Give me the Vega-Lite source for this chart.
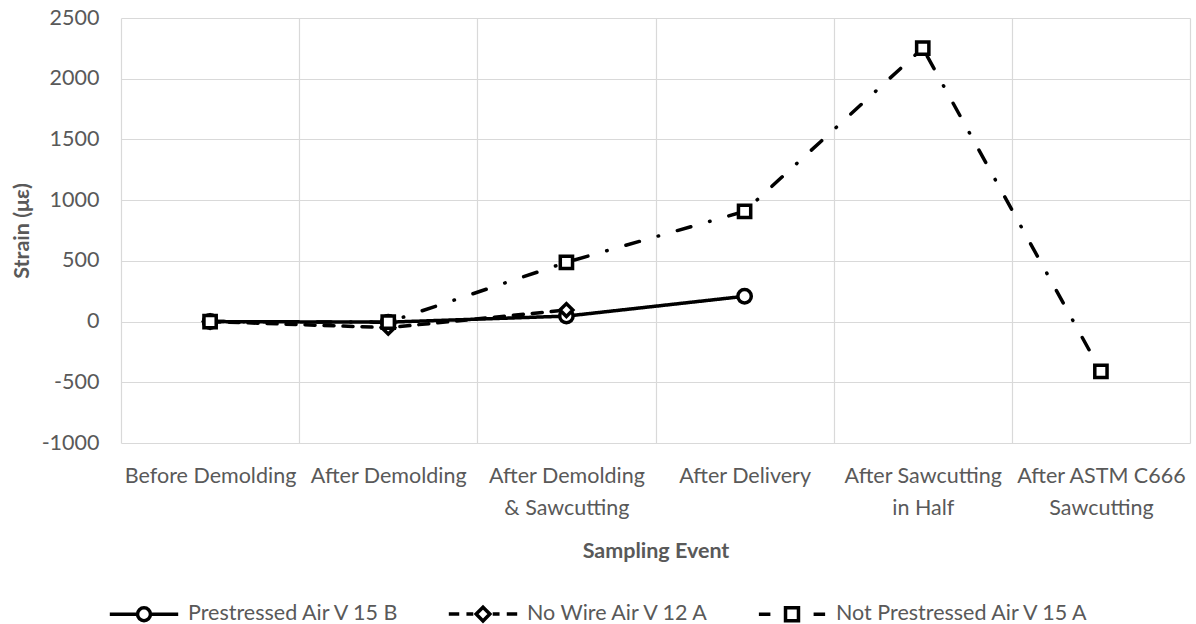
{
  "$schema": "https://vega.github.io/schema/vega-lite/v6.json",
  "autosize": "none",
  "width": 1069,
  "height": 425,
  "padding": {"left": 121, "top": 18, "right": 6, "bottom": 181},
  "background": "white",
  "config": {
    "view": {"stroke": null},
    "font": "Lato",
    "axis": {"labelFont": "Lato", "titleFont": "Lato", "labelColor": "#595959", "titleColor": "#595959", "gridColor": "#d9d9d9", "gridWidth": 1.2, "domain": false, "ticks": false, "tickSize": 0}
  },
  "data": {
    "values": [
      {"event": "Before Demolding", "series": "Prestressed Air V 15 B", "strain": 0},
      {"event": "After Demolding", "series": "Prestressed Air V 15 B", "strain": -5},
      {"event": "After Demolding & Sawcutting", "series": "Prestressed Air V 15 B", "strain": 45},
      {"event": "After Delivery", "series": "Prestressed Air V 15 B", "strain": 208},
      {"event": "Before Demolding", "series": "No Wire Air V 12 A", "strain": 0},
      {"event": "After Demolding", "series": "No Wire Air V 12 A", "strain": -50},
      {"event": "After Demolding & Sawcutting", "series": "No Wire Air V 12 A", "strain": 95},
      {"event": "Before Demolding", "series": "Not Prestressed Air V 15 A", "strain": 0},
      {"event": "After Demolding", "series": "Not Prestressed Air V 15 A", "strain": -5},
      {"event": "After Demolding & Sawcutting", "series": "Not Prestressed Air V 15 A", "strain": 488},
      {"event": "After Delivery", "series": "Not Prestressed Air V 15 A", "strain": 908},
      {"event": "After Sawcutting in Half", "series": "Not Prestressed Air V 15 A", "strain": 2252},
      {"event": "After ASTM C666 Sawcutting", "series": "Not Prestressed Air V 15 A", "strain": -410}
    ]
  },
  "encoding": {
    "x": {
      "field": "event",
      "type": "ordinal",
      "scale": {
        "type": "band",
        "paddingInner": 0,
        "paddingOuter": 0,
        "domain": ["Before Demolding", "After Demolding", "After Demolding & Sawcutting", "After Delivery", "After Sawcutting in Half", "After ASTM C666 Sawcutting"]
      },
      "axis": {
        "title": "Sampling Event",
        "grid": true,
        "tickBand": "extent",
        "labelAngle": 0,
        "labelFontSize": 21.5,
        "labelBaseline": "alphabetic",
        "labelPadding": 39,
        "labelLineHeight": 32,
        "labelLimit": 300,
        "labelExpr": "datum.label == 'After Demolding & Sawcutting' ? ['After Demolding', '& Sawcutting'] : datum.label == 'After Sawcutting in Half' ? ['After Sawcutting', 'in Half'] : datum.label == 'After ASTM C666 Sawcutting' ? ['After ASTM C666', 'Sawcutting'] : datum.label",
        "titleFontSize": 21.5,
        "titleFontWeight": "bold",
        "titleBaseline": "alphabetic",
        "titleY": 114,
        "titleX": 534.5
      }
    },
    "y": {
      "field": "strain",
      "type": "quantitative",
      "scale": {"domain": [-1000, 2500], "nice": false, "zero": false},
      "axis": {
        "title": "Strain (με)",
        "values": [-1000, -500, 0, 500, 1000, 1500, 2000, 2500],
        "labelExpr": "'' + datum.value",
        "labelFontSize": 21.5,
        "labelPadding": 22,
        "titleFontSize": 21.5,
        "titleFontWeight": "bold",
        "titleAngle": -90,
        "titleBaseline": "middle",
        "titleAlign": "center",
        "titleX": -99,
        "titleY": 212.5
      }
    }
  },
  "resolve": {"scale": {"shape": "independent"}, "legend": {"shape": "independent"}},
  "layer": [
    {
      "mark": {"type": "line", "color": "black", "strokeWidth": 3.5, "strokeCap": "round", "strokeJoin": "round"},
      "encoding": {
        "strokeDash": {
          "field": "series",
          "type": "nominal",
          "scale": {
            "domain": ["Prestressed Air V 15 B", "No Wire Air V 12 A", "Not Prestressed Air V 15 A"],
            "range": [[1, 0], [10, 9], [14, 19.5, 0.5, 19.5]]
          },
          "legend": null
        }
      }
    },
    {
      "mark": {"type": "point", "filled": false, "fill": "white", "fillOpacity": 1, "stroke": "black", "strokeWidth": 3.5, "opacity": 1},
      "encoding": {
        "shape": {
          "field": "series",
          "type": "nominal",
          "scale": {
            "domain": ["Prestressed Air V 15 B", "No Wire Air V 12 A", "Not Prestressed Air V 15 A"],
            "range": ["circle", "diamond", "square"]
          },
          "legend": null
        },
        "size": {
          "field": "series",
          "type": "nominal",
          "scale": {
            "domain": ["Prestressed Air V 15 B", "No Wire Air V 12 A", "Not Prestressed Air V 15 A"],
            "range": [180, 150, 270]
          },
          "legend": null
        }
      }
    },
    {
      "mark": {"type": "point", "filled": false, "opacity": 0, "stroke": "black"},
      "encoding": {
        "shape": {
          "field": "series",
          "type": "nominal",
          "scale": {
            "domain": ["Prestressed Air V 15 B", "No Wire Air V 12 A", "Not Prestressed Air V 15 A"],
            "range": [
              "M-0.95,0H-0.19M0.19,0H0.95M0.18,0A0.18,0.18,0,1,1,-0.18,0A0.18,0.18,0,1,1,0.18,0Z",
              "M-0.95,0H-0.66M-0.46,0H-0.27M0.27,0H0.46M0.66,0H0.95M-0.19,0L0,-0.19L0.19,0L0,0.19Z",
              "M-0.92,0H-0.6M0.6,0H0.92M-0.18,-0.18H0.18V0.18H-0.18Z"
            ]
          },
          "legend": {
            "title": null,
            "orient": "none",
            "direction": "horizontal",
            "legendX": -15,
            "legendY": 558,
            "symbolSize": 5184,
            "symbolStrokeWidth": 3.5,
            "symbolStrokeColor": "black",
            "symbolFillColor": "white",
            "symbolOpacity": 1,
            "labelFont": "Lato",
            "labelFontSize": 21.5,
            "labelColor": "#595959",
            "labelOffset": 6,
            "labelLimit": 400,
            "columnPadding": 40,
            "padding": 0,
            "encode": {
              "symbols": {
                "update": {
                  "strokeCap": {"value": "round"},
                  "stroke": {"value": "black"},
                  "fill": {"value": "white"},
                  "opacity": {"value": 1},
                  "strokeWidth": {"value": 3.5}
                }
              }
            }
          }
        }
      }
    }
  ]
}
